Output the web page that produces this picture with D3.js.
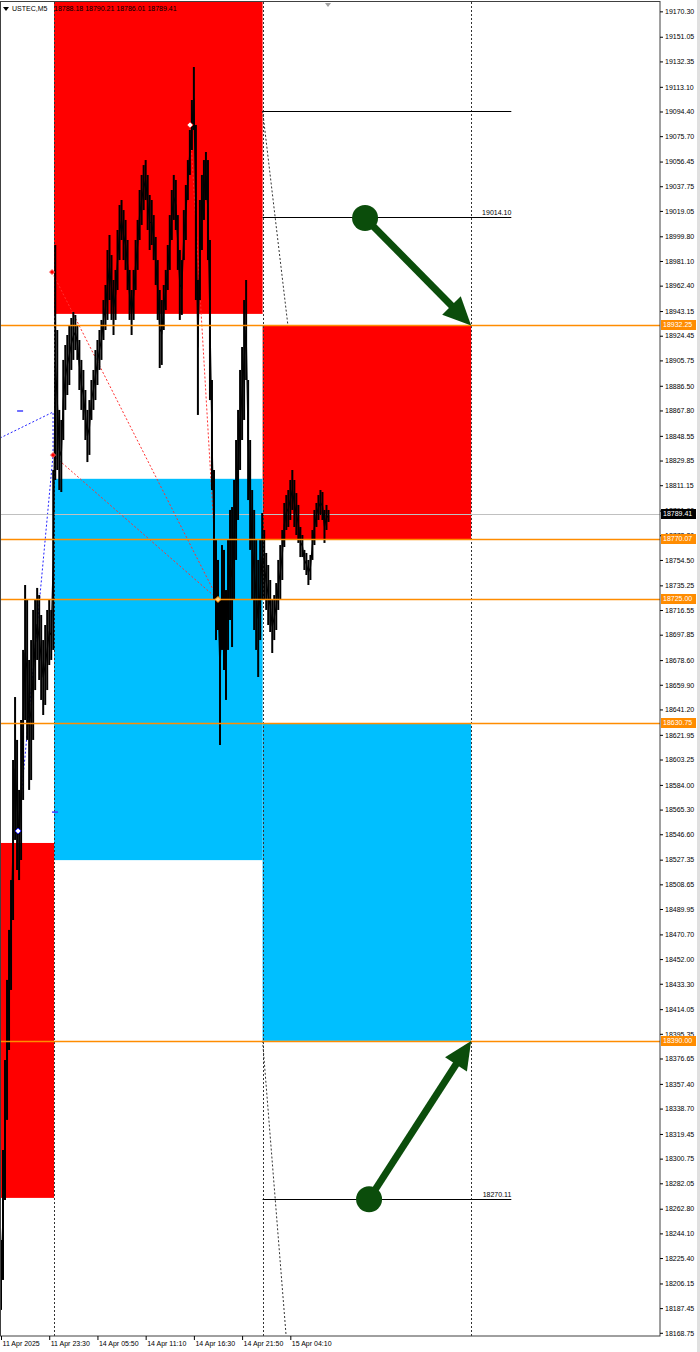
<!DOCTYPE html>
<html><head><meta charset="utf-8">
<script src="https://cdn.jsdelivr.net/npm/d3@7"></script>
<style>
body{margin:0;background:#fff;}
svg{display:block;font-family:"Liberation Sans",Arial,sans-serif;}
</style></head>
<body><svg id="c" width="700" height="1352"></svg>
<script>
// ---------------- DATA ----------------
const symbol = "USTEC,M5";
const ohlc = [18788.18, 18790.21, 18786.01, 18789.41];
const bidPrice = 18789.41;
const highs = [18239.1,18307.3,18375.5,18436.2,18474.1,18511.9,18602.9,18650.6,18618.1,18580.2,
18633.2,18686.3,18735.5,18724.2,18678.7,18693.8,18716.6,18724.2,18733.3,18727.9,
18712.8,18693.8,18705.2,18716.6,18724.2,18716.6,18822.7,18993.2,18928.8,18868.2,
18860.6,18906.1,18917.4,18925.0,18932.6,18937.9,18942.4,18940.2,18932.6,18921.2,
18906.1,18898.5,18883.3,18868.2,18875.7,18890.9,18898.5,18913.6,18921.2,18928.8,
18936.4,18951.5,18962.9,18989.4,19000.8,18985.6,18966.7,18974.3,19004.6,19023.5,
19027.3,19019.7,19012.2,18997.0,18974.3,18959.1,18974.3,18997.0,19012.2,19034.9,
19046.3,19053.8,19057.6,19046.3,19031.1,19027.3,19015.9,18999.3,18981.8,18959.1,
18951.5,18962.9,18974.3,18993.2,19015.9,19034.9,19046.3,19042.5,19015.9,18989.4,
18981.8,19019.7,19038.7,19057.6,19080.4,19103.1,19128.1,19084.2,18966.7,19027.3,
19046.3,19057.6,19063.7,19057.6,18997.0,18890.9,18822.7,18769.6,18754.5,18724.2,
18765.8,18762.1,18731.7,18769.6,18792.4,18794.6,18815.1,18845.4,18868.2,18898.5,
18915.9,18951.5,18966.7,18890.9,18845.4,18807.5,18792.4,18769.6,18754.5,18769.6,
18790.1,18777.2,18759.8,18750.7,18739.3,18724.2,18727.9,18737.0,18754.5,18765.8,
18777.2,18797.7,18803.7,18807.5,18815.1,18822.7,18815.1,18805.2,18796.2,18779.5,
18773.4,18762.1,18759.8,18754.5,18758.3,18777.2,18792.4,18797.7,18803.7,18807.5,
18806.0,18792.4,18796.2,18792.4];
const lows = [18186.1,18208.8,18269.4,18330.1,18383.1,18428.6,18481.6,18542.3,18519.5,18511.9,
18527.1,18572.6,18633.2,18618.1,18580.2,18587.7,18618.1,18655.9,18678.7,18663.5,
18648.4,18637.0,18644.6,18655.9,18674.9,18678.7,18686.3,18815.1,18822.7,18807.5,
18806.0,18845.4,18868.2,18879.5,18887.1,18898.5,18906.1,18913.6,18906.1,18883.3,
18868.2,18860.6,18845.4,18828.7,18834.1,18860.6,18868.2,18875.7,18887.1,18898.5,
18906.1,18921.2,18928.8,18936.4,18951.5,18936.4,18925.0,18936.4,18959.1,18981.8,
18997.0,18981.8,18974.3,18959.1,18936.4,18925.0,18936.4,18959.1,18974.3,18997.0,
19008.4,19019.7,19027.3,19004.6,18989.4,18993.2,18981.8,18962.9,18936.4,18900.0,
18902.3,18928.8,18943.9,18959.1,18974.3,18997.0,19012.2,19004.6,18974.3,18936.4,
18940.2,18981.8,18997.0,19027.3,19046.3,19065.2,19080.4,18951.5,18864.4,18951.5,
18989.4,19012.2,19027.3,18981.8,18875.7,18807.5,18724.2,18693.8,18701.4,18614.3,
18686.3,18671.1,18648.4,18686.3,18709.0,18688.5,18724.2,18754.5,18784.8,18822.7,
18845.4,18860.6,18890.9,18799.9,18762.1,18724.2,18701.4,18686.3,18665.8,18693.8,
18724.2,18724.2,18716.6,18705.2,18699.9,18684.0,18693.8,18701.4,18716.6,18724.2,
18739.3,18764.3,18777.2,18779.5,18784.8,18792.4,18779.5,18773.4,18767.4,18756.7,
18756.7,18746.9,18743.1,18735.5,18739.3,18754.5,18765.8,18779.5,18784.8,18788.6,
18784.8,18767.4,18777.2,18783.3];

const priceTicks = [19170.30,19151.05,19132.35,19113.10,19094.40,19075.70,19056.45,19037.75,19019.05,18999.80,
18981.10,18962.40,18943.15,18924.45,18905.75,18886.50,18867.80,18848.55,18829.85,18811.15,
18791.90,18773.20,18754.50,18735.25,18716.55,18697.85,18678.60,18659.90,18641.20,18621.95,
18603.25,18584.00,18565.30,18546.60,18527.35,18508.65,18489.95,18470.70,18452.00,18433.30,
18414.05,18395.35,18376.65,18357.40,18338.70,18319.45,18300.75,18282.05,18262.80,18244.10,
18225.40,18206.15,18187.45,18168.75];
const timeLabels = ["11 Apr 2025","11 Apr 23:30","14 Apr 05:50","14 Apr 11:10","14 Apr 16:30","14 Apr 21:50","15 Apr 04:10"];
const timeTickBars = [0,24,48,72,96,120,144];
const separatorBars = [26.4,130.2,234];

const levelPrices = [18932.25,18770.07,18725.00,18630.75,18390.00];
// zones: [startBar, endBar, topPrice, bottomPrice, kind]
const zoneStart = [-0.5, 26.4, 130.2, 26.4, 130.2];
const zoneEnd   = [26.4, 130.2, 234, 130.2, 234];
const zoneTop   = [18540, 19190, 18932.25, 18816, 18630.75];
const zoneBottom= [18271, 18941, 18770.07, 18527, 18390.00];
const zoneKind  = ["sell","sell","sell","buy","buy"];

const trendPrices = [19094.8, 19014.10, 18390.00, 18270.11];
const trendLabeled = [false, true, false, true];
const trendFrom = 130.2, trendTo = 254;

const arrowFrom = [[181.2,19013.7],[183.2,18270.0]];
const arrowTo   = [[234,18932.25],[234,18390.00]];

const grayDiag = [[[130.2,19094.8],[142.8,18932.25]],[[130.2,18390.0],[141.9,18166.6]]];
const redDiag = [[[25.4,18972.7],[108,18724.6]],[[25.9,18834.0],[108,18724.6]],[[94.1,19084.2],[108,18724.6]]];
const bluePath = [[-0.5,18846.9],[25.9,18866.6],[25.9,18834.0],[8.5,18549.1]];

// ---------------- DRAW ----------------
const W=700,H=1352, plotR=660, plotT=2, plotB=1336;
const svg=d3.select("#c");
const x=d3.scaleLinear().domain([-0.5,328]).range([0,660]);
const y=d3.scaleLinear().domain([19178.9,18168.75]).range([0,1332.8]);

svg.append("defs").append("clipPath").attr("id","clip")
  .append("rect").attr("x",0).attr("y",plotT).attr("width",plotR).attr("height",plotB-plotT);
const g=svg.append("g").attr("clip-path","url(#clip)");

const zoneColor={sell:"#FF0000",buy:"#00BFFF"};
g.selectAll("rect.zone").data(zoneKind).join("rect").attr("class","zone")
  .attr("x",(d,i)=>x(zoneStart[i])).attr("width",(d,i)=>x(zoneEnd[i])-x(zoneStart[i]))
  .attr("y",(d,i)=>y(zoneTop[i])).attr("height",(d,i)=>y(zoneBottom[i])-y(zoneTop[i]))
  .attr("fill",d=>zoneColor[d]);

// separators
g.selectAll("line.sep").data(separatorBars).join("line")
  .attr("x1",d=>Math.round(x(d))+0.5).attr("x2",d=>Math.round(x(d))+0.5)
  .attr("y1",plotT).attr("y2",plotB).attr("stroke","#333").attr("stroke-width",1).attr("stroke-dasharray","2,2");

// diagonals
const line=d3.line().x(d=>x(d[0])).y(d=>y(d[1]));
grayDiag.forEach(p=>g.append("path").attr("d",line(p)).attr("fill","none").attr("stroke","#333").attr("stroke-dasharray","2,2"));
redDiag.forEach(p=>g.append("path").attr("d",line(p)).attr("fill","none").attr("stroke","#FF3030").attr("stroke-dasharray","2,2"));
g.append("path").attr("d",line(bluePath)).attr("fill","none").attr("stroke","#2020FF").attr("stroke-dasharray","2,2");

// bid line
g.append("line").attr("x1",0).attr("x2",plotR).attr("y1",Math.round(y(bidPrice))+0.5).attr("y2",Math.round(y(bidPrice))+0.5)
  .attr("stroke","#C0C0C0");

// price bars: connecting trace + hi/lo bars
const mid=highs.map((h,i)=>[i,(h+lows[i])/2]);
g.append("path").attr("d",line(mid)).attr("fill","none").attr("stroke","#000").attr("stroke-width",1.2);
g.selectAll("line.bar").data(highs).join("line").attr("class","bar")
  .attr("x1",(d,i)=>x(i)).attr("x2",(d,i)=>x(i))
  .attr("y1",d=>y(d)).attr("y2",(d,i)=>y(lows[i]))
  .attr("stroke","#000").attr("stroke-width",2);

// trend lines
g.selectAll("line.tr").data(trendPrices).join("line")
  .attr("x1",x(trendFrom)).attr("x2",x(trendTo))
  .attr("y1",d=>Math.round(y(d))+0.5).attr("y2",d=>Math.round(y(d))+0.5).attr("stroke","#000");
g.selectAll("text.tr").data(trendPrices.filter((d,i)=>trendLabeled[i])).join("text")
  .attr("x",x(trendTo)).attr("y",d=>y(d)-2).attr("text-anchor","end")
  .attr("font-size",7).attr("fill","#000").text(d=>d.toFixed(2));

// level lines
g.selectAll("line.lvl").data(levelPrices).join("line")
  .attr("x1",0).attr("x2",plotR).attr("y1",d=>Math.round(y(d))+0.5).attr("y2",d=>Math.round(y(d))+0.5)
  .attr("stroke","#FF8C00").attr("stroke-width",1.6);

// markers
function diamond(cx,cy,r,fill,stroke){
  g.append("path").attr("d",`M${cx},${cy-r}L${cx+r},${cy}L${cx},${cy+r}L${cx-r},${cy}Z`)
   .attr("fill",fill).attr("stroke",stroke).attr("stroke-width",1);
}
diamond(x(redDiag[0][0][0]),y(redDiag[0][0][1]),2.5,"#FF0000","#FF6060");
diamond(x(redDiag[1][0][0]),y(redDiag[1][0][1]),2.5,"#FF0000","#FF6060");
diamond(x(redDiag[2][0][0]),y(redDiag[2][0][1]),3,"#fff","#FF3030");
diamond(x(redDiag[0][1][0]),y(redDiag[0][1][1]),3,"#FFD27F","#FF8C00");
diamond(x(bluePath[3][0]),y(bluePath[3][1]),3,"#fff","#2020FF");
g.append("line").attr("x1",x(9.5)-3).attr("x2",x(9.5)+3).attr("y1",y(18867.4)).attr("y2",y(18867.4)).attr("stroke","#4040FF").attr("stroke-width",1.5);
g.append("line").attr("x1",x(26.4)-2).attr("x2",x(26.4)+4).attr("y1",y(18563.4)).attr("y2",y(18563.4)).attr("stroke","#4040FF").attr("stroke-width",1.5);

// green arrows
const green="#0B4D0B";
arrowFrom.forEach((s,i)=>{
  const x0=x(s[0]),y0=y(s[1]),x1=x(arrowTo[i][0]),y1=y(arrowTo[i][1]);
  const ang=Math.atan2(y1-y0,x1-x0), L=28, Wd=13;
  const bx=x1-L*Math.cos(ang), by=y1-L*Math.sin(ang);
  g.append("line").attr("x1",x0).attr("y1",y0).attr("x2",bx+2*Math.cos(ang)).attr("y2",by+2*Math.sin(ang)).attr("stroke",green).attr("stroke-width",7);
  const px=-Math.sin(ang), py=Math.cos(ang);
  g.append("path").attr("d",`M${x1},${y1}L${bx+px*Wd},${by+py*Wd}L${bx-px*Wd},${by-py*Wd}Z`).attr("fill",green);
  g.append("circle").attr("cx",x0).attr("cy",y0).attr("r",13).attr("fill",green);
});

// frame
svg.append("rect").attr("x",0.5).attr("y",1.5).attr("width",plotR-0.5).attr("height",plotB-1.5)
  .attr("fill","none").attr("stroke","#404040");
svg.append("rect").attr("x",697).attr("y",0).attr("width",3).attr("height",H).attr("fill","#E0E0E0");

// right axis
const ay=svg.append("g").attr("transform",`translate(${plotR},0)`)
  .call(d3.axisRight(y).tickValues(priceTicks).tickSize(3).tickPadding(2).tickFormat(d=>d.toFixed(2)));
ay.select(".domain").remove();
ay.selectAll("text").attr("font-size",7).attr("font-family","Liberation Sans, Arial, sans-serif").attr("fill","#000");
ay.selectAll("line").attr("stroke","#000");

// bottom axis
const ax=svg.append("g").attr("transform",`translate(0,${plotB})`)
  .call(d3.axisBottom(x).tickValues(timeTickBars).tickSize(4).tickFormat((d,i)=>timeLabels[i]));
ax.select(".domain").remove();
ax.selectAll("line").attr("stroke","#000");
ax.selectAll("text").attr("font-size",7).attr("font-family","Liberation Sans, Arial, sans-serif")
  .attr("fill","#000").attr("text-anchor","start").attr("dx",1).attr("y",5);

// price labels
function tag(p,bg,fg){
  const yy=Math.round(y(p));
  svg.append("rect").attr("x",661).attr("y",yy-5).attr("width",35).attr("height",10).attr("fill",bg);
  svg.append("text").attr("x",663).attr("y",yy).attr("dy","0.34em").attr("font-size",7).attr("fill",fg).text(p.toFixed(2));
}
levelPrices.forEach(p=>tag(p,"#FF8C00","#fff"));
tag(bidPrice,"#000","#fff");

// header
svg.append("path").attr("d","M3,7L9,7L6,11Z").attr("fill","#000");
svg.append("text").attr("x",12).attr("y",11).attr("font-size",7).attr("fill","#000").text(symbol);
svg.append("text").attr("x",54).attr("y",11).attr("font-size",7).attr("fill","#000").text(ohlc.map(v=>v.toFixed(2)).join(" "));
svg.append("path").attr("d","M325,3L331,3L328,7Z").attr("fill","#A0A0A0");
</script></body></html>
